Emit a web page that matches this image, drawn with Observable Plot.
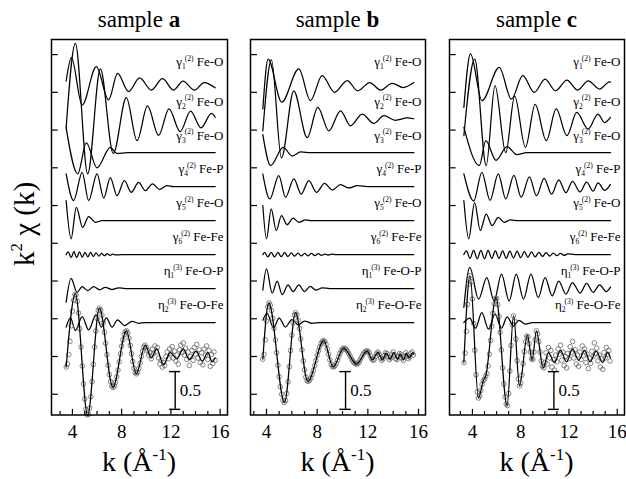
<!DOCTYPE html>
<html><head><meta charset="utf-8">
<script src="https://cdn.jsdelivr.net/npm/d3@7"></script>
<script src="https://cdn.jsdelivr.net/npm/@observablehq/plot@0.6"></script>
<style>
body{margin:0;background:#fff;}
#root{position:relative;width:626px;height:479px;overflow:hidden;background:#fff;}
#root svg, #root text, #root tspan{font-family:"Liberation Serif","Times New Roman",serif !important;}
.pane{position:absolute;top:0;}
#overlay{position:absolute;left:0;top:0;pointer-events:none;}
</style></head>
<body><div id="root"></div>
<script>
// ---------- shared ----------
const panelNames = ["a", "b", "c"];
const pathLabels = ["γ|1|(2)|Fe-O", "γ|2|(2)|Fe-O", "γ|3|(2)|Fe-O", "γ|4|(2)|Fe-P",
                    "γ|5|(2)|Fe-O", "γ|6|(2)|Fe-Fe", "η|1|(3)|Fe-O-P", "η|2|(3)|Fe-O-Fe"];
const offsets = [3.6, 3.15, 2.7, 2.25, 1.8, 1.35, 0.9, 0.45];
const xTickLabels = [4, 8, 12, 16];
const yTicks = [-0.5, 0, 0.5, 1, 1.5, 2, 2.5, 3, 3.5, 4];
const scaleBarLength = 0.5;

// ---------- sample a ----------
const a_g1 = [[3.49,0.05],[3.92,0.36],[4.79,-0.27],[5.94,0.24],[6.94,-0.2],[7.67,0.15],[8.56,-0.09],[9.46,0.09],[10.41,-0.07],[11.32,0.08],[12.21,-0.07],[12.98,0.05],[13.92,-0.07],[14.7,0.03],[15.6,-0.04]];
const a_g2 = [[3.49,-0.12],[4.24,1.0],[5.24,-0.73],[6.27,0.66],[7.32,-0.46],[8.38,0.28],[9.25,-0.29],[10.1,0.17],[11.0,-0.22],[11.85,0.13],[12.75,-0.17],[13.6,0.1],[14.45,-0.12],[15.3,0.07],[15.6,0.02]];
const a_g3 = [[3.49,0.33],[4.43,-0.28],[5.13,0.13],[6.0,-0.2],[7.08,0.07],[7.6,-0.01],[8.5,0],[15.6,0]];
const a_g4 = [[3.49,0.17],[4.1,-0.185],[4.79,0.19],[5.32,-0.185],[6.0,0.17],[6.54,-0.15],[7.08,0.12],[7.62,-0.12],[8.22,0.08],[8.78,-0.075],[9.38,0.057],[9.92,-0.053],[10.51,0.036],[11.08,-0.036],[11.68,0.013],[12.2,0],[15.6,0]];
const a_g5 = [[3.49,0.265],[3.89,-0.24],[4.32,0.176],[4.83,-0.09],[5.32,0.053],[5.86,-0.022],[6.4,0],[15.6,0]];
const a_g6 = [[3.49,0],[3.65,0.035],[3.9,-0.04],[4.12,0.04],[4.35,-0.04],[4.57,0.035],[4.8,-0.035],[5.02,0.03],[5.25,-0.03],[5.47,0.028],[5.7,-0.025],[5.92,0.022],[6.15,-0.02],[6.37,0.017],[6.6,-0.015],[6.82,0.012],[7.05,-0.01],[7.27,0.008],[7.5,-0.005],[8,0],[15.6,0]];
const a_e1 = [[3.49,-0.18],[3.89,0.136],[4.38,-0.05],[4.79,0.026],[5.24,-0.026],[5.73,0.026],[6.21,-0.017],[6.67,0.017],[7.22,-0.013],[7.75,0.01],[8.3,0],[15.6,0]];
const a_e2 = [[3.49,-0.06],[3.84,0.062],[4.24,-0.106],[4.79,0.08],[5.32,-0.097],[5.92,0.106],[6.35,-0.062],[6.76,0.062],[7.22,-0.062],[7.67,0.035],[8.22,-0.04],[8.84,0.017],[9.38,-0.01],[9.9,0],[15.6,0]];
const a_fit = [[3.49,-0.14],[4.24,0.83],[5.24,-0.78],[6.19,0.64],[7.29,-0.41],[8.38,0.34],[9.19,-0.23],[9.92,0.15],[10.4,-0.02],[10.85,0.1],[11.4,-0.11],[11.95,0.05],[12.5,-0.03],[13.0,0.1],[13.5,-0.04],[14.05,0.07],[14.55,-0.06],[15.0,0.05],[15.35,-0.07],[15.6,-0.02]];
const a_dataK = [3.5, 15.6];   // first and last k of the measured points, 0.1 apart
const a_data = [-0.14,-0.097,0.025,0.201,0.407,0.60,0.746,0.823,0.816,0.73,0.576,0.368,0.126,-0.126,-0.362,-0.561,-0.70,-0.774,-0.766,-0.683,-0.533,-0.333,-0.105,0.126,0.338,0.505,0.609,0.64,0.615,0.549,0.447,0.32,0.175,0.025,-0.117,-0.239,-0.334,-0.392,-0.41,-0.392,-0.343,-0.269,-0.18,-0.07,0.036,0.136,0.223,0.29,0.33,0.34,0.31,0.243,0.146,0.038,-0.065,-0.155,-0.213,-0.23,-0.209,-0.158,-0.086,0.0,0.07,0.125,0.15,
 0.12,0.08,0.02,0.05,-0.03,0.1,0.04,0.14,0.06,0.12,-0.02,-0.1,-0.05,-0.14,-0.08,-0.12,0.0,0.06,-0.03,0.1,0.04,0.13,-0.02,0.07,-0.06,0.02,-0.1,0.09,0.15,0.05,0.18,0.02,0.11,-0.04,0.06,-0.12,0.0,0.08,-0.05,0.12,0.03,0.16,-0.02,0.09,-0.08,0.05,-0.11,0.1,0.02,0.14,-0.04,0.08,-0.13,0.03,-0.09,0.06,-0.05];
const a_bar = 12.35;

// ---------- sample b ----------
const b_g1 = [[3.71,-0.32],[4.13,0.34],[5.2,-0.23],[6.55,0.21],[7.47,-0.21],[8.39,0.12],[9.37,-0.1],[10.37,0.055],[11.2,-0.08],[12.15,0.03],[13.0,-0.07],[13.92,0.02],[14.79,-0.036],[15.63,0.03]];
const b_g2 = [[3.71,-0.16],[4.39,0.78],[5.18,-0.52],[6.15,0.37],[7.21,-0.25],[8.05,0.15],[8.92,-0.16],[9.84,0.106],[10.63,-0.093],[11.55,0.062],[12.47,-0.062],[13.26,0.04],[14.18,-0.02],[15.1,0.01],[15.63,0]];
const b_g3 = [[3.71,0.24],[4.32,-0.17],[5.32,0.07],[6.03,-0.044],[6.7,0.01],[7.5,0],[15.63,0]];
const b_g4 = [[3.71,0.168],[4.26,-0.163],[4.97,0.146],[5.5,-0.141],[6.16,0.102],[6.74,-0.097],[7.34,0.08],[7.95,-0.075],[8.58,0.044],[9.19,-0.044],[9.84,0.026],[10.5,-0.017],[11.16,0.013],[12,0],[15.63,0]];
const b_g5 = [[3.71,0.198],[4.0,-0.24],[4.37,0.155],[4.77,-0.132],[5.18,0.066],[5.63,-0.053],[6.1,0.035],[6.55,-0.022],[7.08,0.01],[7.6,0],[15.63,0]];
const b_g6 = [[3.71,0],[3.85,0.03],[4.1,-0.03],[4.37,0.03],[4.63,-0.03],[4.9,0.028],[5.16,-0.028],[5.43,0.025],[5.69,-0.025],[5.96,0.022],[6.22,-0.02],[6.49,0.02],[6.75,-0.018],[7.02,0.018],[7.28,-0.016],[7.55,0.015],[7.81,-0.013],[8.08,0.012],[8.34,-0.01],[8.61,0.008],[8.87,-0.006],[9.14,0.005],[9.5,0],[15.63,0]];
const b_e1 = [[3.71,-0.02],[4.0,0.26],[4.45,-0.06],[4.84,0.1],[5.24,-0.08],[5.7,0.05],[6.1,-0.04],[6.55,0.05],[7.0,-0.04],[7.45,0.03],[7.9,-0.02],[8.4,0.01],[9,0],[15.63,0]];
const b_e2 = [[3.71,0.03],[4.05,0.12],[4.55,-0.07],[5.0,0.06],[5.5,-0.06],[6.0,0.04],[6.5,-0.03],[7.0,0.02],[7.6,-0.01],[8.2,0],[15.63,0]];
const b_fit = [[3.71,-0.035],[4.18,0.71],[5.42,-0.61],[6.29,0.58],[7.26,-0.33],[8.52,0.21],[9.26,-0.14],[10.1,0.11],[11.1,-0.1],[11.95,0.075],[12.35,-0.045],[12.8,0.055],[13.15,-0.045],[13.45,0.045],[13.75,-0.035],[14.05,0.05],[14.35,-0.04],[14.55,0.035],[14.8,-0.045],[15.05,0.04],[15.25,-0.02],[15.55,0.05],[15.63,0.03]];
const b_dataK = [3.7, 15.6];
const b_data = [-0.035,0.029,0.222,0.472,0.658,0.71,0.68,0.61,0.505,0.375,0.219,0.05,-0.115,-0.267,-0.40,-0.50,-0.578,-0.61,-0.586,-0.49,-0.336,-0.134,0.08,0.283,0.449,0.551,0.58,0.552,0.48,0.371,0.234,0.089,-0.057,-0.175,-0.271,-0.321,-0.329,-0.314,-0.284,-0.238,-0.184,-0.12,-0.052,0.016,0.075,0.129,0.17,0.198,0.21,0.2,0.161,0.1,0.028,-0.044,-0.102,-0.133,-0.137,-0.124,-0.093,-0.052,-0.005,0.04,0.075,0.101,0.11,0.105,0.09,0.067,0.037,0.005,-0.028,-0.057,-0.08,-0.095,-0.1,-0.095,-0.075,-0.045,-0.01,0.025,0.05,0.066,0.074,
 0.07,0.05,0.01,-0.03,-0.05,-0.04,0.0,0.04,0.06,0.03,-0.02,-0.05,-0.03,0.01,0.05,0.04,0.0,-0.04,-0.02,0.03,0.06,0.02,-0.03,-0.04,0.0,0.04,0.03,-0.02,-0.05,0.0,0.05,0.02,-0.03,-0.01,0.04,0.06,0.02];
const b_bar = 10.24;

// ---------- sample c ----------
const c_g1 = [[3.29,-0.3],[3.84,0.41],[4.79,-0.21],[6.22,0.23],[7.23,-0.19],[8.17,0.12],[9.12,-0.1],[10.02,0.075],[10.89,-0.08],[11.83,0.062],[12.72,-0.07],[13.59,0.053],[14.54,-0.057],[15.36,0.04],[15.44,0.035]];
const c_g2 = [[3.29,-0.225],[4.19,0.79],[5.14,-0.62],[5.87,0.44],[6.76,-0.45],[7.5,0.3],[8.39,-0.38],[9.2,0.19],[10.12,-0.29],[10.94,0.13],[11.83,-0.225],[12.64,0.083],[13.59,-0.136],[14.4,0.062],[14.95,-0.05],[15.44,0.017]];
const c_g3 = [[3.29,0.335],[4.57,-0.17],[5.11,0.16],[5.95,-0.1],[6.87,0.08],[7.68,-0.026],[8.5,0],[15.44,0]];
const c_g4 = [[3.29,0.17],[4.11,-0.19],[4.78,0.19],[5.46,-0.18],[6.14,0.17],[6.76,-0.16],[7.44,0.15],[8.04,-0.14],[8.72,0.13],[9.31,-0.12],[9.94,0.11],[10.56,-0.1],[11.15,0.09],[11.75,-0.08],[12.29,0.07],[12.92,-0.07],[13.46,0.06],[14.0,-0.06],[14.41,0.05],[14.95,-0.05],[15.44,0.03]];
const c_g5 = [[3.29,0.265],[3.69,-0.24],[4.18,0.24],[4.65,-0.13],[5.14,0.088],[5.63,-0.066],[6.14,0.044],[6.63,-0.022],[7.14,0.01],[7.8,0],[15.44,0]];
const c_g6 = [[3.29,0],[3.5,0.05],[3.8,-0.05],[4.1,0.055],[4.4,-0.055],[4.7,0.055],[5.0,-0.055],[5.3,0.055],[5.6,-0.05],[5.9,0.05],[6.2,-0.05],[6.5,0.05],[6.8,-0.05],[7.1,0.045],[7.4,-0.045],[7.7,0.045],[8.0,-0.04],[8.3,0.04],[8.6,-0.035],[8.9,0.035],[9.2,-0.03],[9.5,0.03],[9.8,-0.025],[10.1,0.025],[10.4,-0.02],[10.7,0.02],[11.0,-0.015],[11.3,0.015],[11.6,-0.01],[11.9,0.01],[12.5,0],[15.44,0]];
const c_e1 = [[3.29,-0.25],[3.78,0.28],[4.51,-0.14],[5.19,0.146],[5.79,-0.163],[6.41,0.19],[7.04,-0.163],[7.63,0.19],[8.23,-0.14],[8.85,0.19],[9.45,-0.119],[10.02,0.146],[10.61,-0.097],[11.15,0.1],[11.75,-0.075],[12.29,0.08],[12.92,-0.06],[13.46,0.07],[14.0,-0.05],[14.54,0.05],[15.08,-0.04],[15.44,0.02]];
const c_e2 = [[3.29,0],[3.78,0.058],[4.25,-0.075],[4.78,0.13],[5.33,-0.088],[5.87,0.11],[6.41,-0.075],[6.87,0.075],[7.41,-0.044],[7.85,0.03],[8.39,-0.02],[8.99,0],[15.44,0]];
const c_fit = [[3.29,-0.08],[3.8,1.07],[4.5,-0.55],[4.9,-0.32],[5.1,-0.26],[5.95,0.78],[6.87,-0.65],[7.41,0.54],[7.9,-0.39],[8.55,0.28],[8.95,-0.05],[9.3,0.34],[9.86,-0.15],[10.3,0.05],[10.8,-0.08],[11.3,0.08],[11.8,-0.07],[12.3,0.1],[12.8,-0.05],[13.3,0.08],[13.75,-0.07],[14.25,0.07],[14.8,-0.08],[15.2,0.05],[15.44,-0.02]];
const c_dataK = [3.3, 15.4];
const c_data = [-0.08,0.047,0.334,0.69,0.96,1.07,0.99,0.762,0.438,0.082,-0.242,-0.469,-0.55,-0.52,-0.45,-0.37,-0.32,-0.3,-0.26,-0.225,-0.125,0.031,0.213,0.40,0.572,0.697,0.77,0.77,0.688,0.533,0.322,0.086,-0.15,-0.364,-0.536,-0.63,-0.65,-0.49,-0.192,0.147,0.421,0.54,0.468,0.233,-0.055,-0.297,-0.39,-0.352,-0.246,-0.095,0.066,0.196,0.27,0.26,0.17,0.06,-0.03,-0.04,0.06,0.22,0.34,0.3,0.2,0.06,-0.06,-0.13,
 -0.15,-0.08,0.05,-0.1,0.12,-0.02,0.08,-0.14,-0.04,-0.18,0.02,-0.07,0.1,0.03,0.15,-0.05,0.06,-0.12,0.0,-0.15,0.04,-0.03,0.13,0.05,0.2,-0.02,0.09,-0.1,0.02,-0.13,0.06,-0.04,0.14,0.01,0.1,-0.08,0.03,-0.16,-0.02,-0.09,0.07,0.0,0.18,0.04,0.11,-0.06,0.02,-0.14,-0.03,-0.17,0.05,-0.02,0.12,0.03,0.08,-0.06];
const c_bar = 10.75;

// ---------- layout ----------
const W = 626, H = 479;
const yDomain = [-0.775, 4.2];
const FONT = "Liberation Serif, Times New Roman, serif";
const panes = [
  {left: 0,   width: 240, mL: 51, mR: 13, xDomain: [2.3, 16.6],   curves: [a_g1,a_g2,a_g3,a_g4,a_g5,a_g6,a_e1,a_e2], fit: a_fit, dataK: a_dataK, data: a_data, bar: a_bar},
  {left: 238, width: 200, mL: 12, mR: 13, xDomain: [2.737, 16.55], curves: [b_g1,b_g2,b_g3,b_g4,b_g5,b_g6,b_e1,b_e2], fit: b_fit, dataK: b_dataK, data: b_data, bar: b_bar},
  {left: 437, width: 189, mL: 12, mR: 2,  xDomain: [2.1, 16.6],   curves: [c_g1,c_g2,c_g3,c_g4,c_g5,c_g6,c_e1,c_e2], fit: c_fit, dataK: c_dataK, data: c_data, bar: c_bar}
];

const root = document.getElementById("root");
const NS = "http://www.w3.org/2000/svg";

function richLabel(el) {
  const parts = el.textContent.split("|");
  if (parts.length < 4) return;
  el.textContent = "";
  const add = (txt, attrs) => {
    const t = document.createElementNS(NS, "tspan");
    t.textContent = txt;
    for (const k in attrs) t.setAttribute(k, attrs[k]);
    el.appendChild(t);
  };
  add(parts[0], {});
  add(parts[1], {"font-size": 7.5, dy: 3});
  add(parts[2], {"font-size": 7.5, dx: -1, dy: -8.5});
  add("\u00a0" + parts[3], {dy: 5.5});
}

panes.forEach((p) => {
  const lines = [];
  p.curves.forEach((c, i) => c.forEach(([k, a]) => lines.push({k, v: a + offsets[i], s: i})));
  const fitPts = p.fit.map(([k, v]) => ({k, v}));
  const n = p.data.length;
  const dataPts = p.data.map((v, i) => ({k: p.dataK[0] + (p.dataK[1] - p.dataK[0]) * i / (n - 1), v}));
  const xTicks = d3.range(Math.ceil(p.xDomain[0]), Math.floor(p.xDomain[1]) + 1);
  const labels = pathLabels.map((t, i) => ({t, y: offsets[i] + (i === 0 ? 0.3 : 0.23)}));
  const y0 = yDomain[0];
  const barTop = -0.2, barBot = barTop - scaleBarLength;

  const svg = Plot.plot({
    width: p.width, height: H,
    marginLeft: p.mL, marginRight: p.mR, marginTop: 39, marginBottom: 64.5,
    x: {domain: p.xDomain, axis: null},
    y: {domain: yDomain, axis: null},
    style: {fontFamily: FONT, background: "transparent", overflow: "visible", color: "#000"},
    marks: [
      Plot.line(lines, {x: "k", y: "v", z: "s", curve: "monotone-x", stroke: "#000", strokeWidth: 1.25}),
      Plot.dot(dataPts, {x: "k", y: "v", r: 2.3, stroke: "#666", strokeWidth: 0.8, fill: "none"}),
      Plot.line(fitPts, {x: "k", y: "v", curve: "monotone-x", stroke: "#000", strokeWidth: 1.25}),
      // inward tick marks
      Plot.ruleX(xTicks, {x: d => d, y1: () => y0, y2: d => y0 + (d % 4 === 0 ? 0.075 : 0.045), stroke: "#000", strokeWidth: 1.2}),
      Plot.ruleY(yTicks, {y: d => d, x1: () => p.xDomain[0], x2: () => p.xDomain[0] + 0.55, stroke: "#000", strokeWidth: 1.2}),
      // scale bar
      Plot.ruleX([p.bar], {x: d => d, y1: () => barTop, y2: () => barBot, stroke: "#000", strokeWidth: 1.4}),
      Plot.ruleY([barTop, barBot], {y: d => d, x1: () => p.bar - 0.45, x2: () => p.bar + 0.45, stroke: "#000", strokeWidth: 1.4}),
      Plot.text([String(scaleBarLength)], {x: () => p.bar + 0.38, y: () => (barTop + barBot) / 2, text: d => d, textAnchor: "start", fontSize: 17, fill: "#000", fontFamily: FONT}),
      // path labels
      Plot.text(labels, {y: "y", text: "t", frameAnchor: "right", textAnchor: "end", dx: -4, fontSize: 13, fill: "#000", fontFamily: FONT}),
      Plot.axisX({ticks: xTickLabels, tickSize: 0, tickPadding: 9, fontSize: 19, label: null, tickFormat: d => String(d), fill: "#000", fontFamily: FONT}),
      Plot.frame({stroke: "#000", strokeWidth: 1.5})
    ]
  });
  svg.querySelectorAll("text").forEach(richLabel);
  const div = document.createElement("div");
  div.className = "pane";
  div.style.left = p.left + "px";
  div.appendChild(svg);
  root.appendChild(div);
});

// ---------- titles and axis titles ----------
const ov = d3.select(root).append("svg").attr("id", "overlay").attr("width", W).attr("height", H)
  .attr("font-family", FONT);
const centers = panes.map(p => p.left + p.mL + (p.width - p.mL - p.mR) / 2);
centers.forEach((cx, i) => {
  const t = ov.append("text").attr("x", cx).attr("y", 27).attr("text-anchor", "middle").attr("font-size", 23);
  t.append("tspan").text("sample ");
  t.append("tspan").attr("font-weight", "bold").text(panelNames[i]);
  const xl = ov.append("text").attr("x", cx).attr("y", 471).attr("text-anchor", "middle").attr("font-size", 28);
  xl.append("tspan").text("k (Å");
  xl.append("tspan").attr("font-size", 17).attr("dy", -11).text("-1");
  xl.append("tspan").attr("dy", 11).text(")");
});
const yl = ov.append("text").attr("transform", "translate(34,224) rotate(-90)").attr("text-anchor", "middle").attr("font-size", 29);
yl.append("tspan").text("k");
yl.append("tspan").attr("font-size", 17).attr("dy", -12).text("2");
yl.append("tspan").attr("dy", 12).text(" χ (k)");
</script>
</body></html>
